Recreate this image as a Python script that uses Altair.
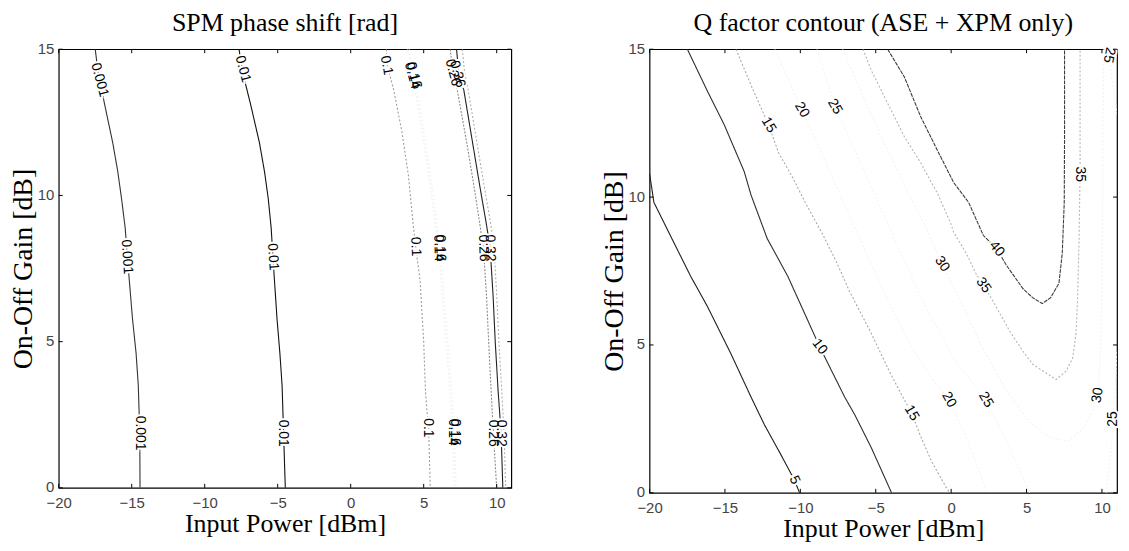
import altair as alt
import pandas as pd

# ---------------- shared axis values ----------------
X_TICKS = [-20, -15, -10, -5, 0, 5, 10]
Y_TICKS = [0, 5, 10, 15]
X_DOMAIN = [-20, 11]
Y_DOMAIN = [0, 15]

# ---------------- left panel: SPM phase shift [rad] ----------------
spm_y = [15.0, 14.2, 13.1, 11.8, 10.8, 9.9, 8.9, 7.3, 5.8, 4.6, 3.5, 1.9, 0.0]
spm_0001_x = [-17.5, -17.3, -16.85, -16.3, -15.95, -15.7, -15.45, -15.2, -14.95, -14.7, -14.55, -14.45, -14.43]
spm_001_x = [-7.65, -7.4, -6.85, -6.25, -5.9, -5.65, -5.45, -5.25, -5.05, -4.85, -4.7, -4.6, -4.48]

spm_01_x = [2.45, 2.5, 2.95, 3.5, 3.95, 4.3, 4.45, 4.75, 5.0, 5.12, 5.25, 5.34, 5.45]
spm_01_y = [15.0, 14.45, 13.6, 12.2, 10.7, 8.9, 8.25, 7.1, 5.0, 3.3, 2.5, 2.0, 0.0]

spm_014_x = [3.9, 4.2, 4.7, 5.2, 5.6, 6.0, 6.3, 6.6, 6.85, 7.0, 7.1]
spm_016_x = [4.02, 4.32, 4.82, 5.32, 5.72, 6.12, 6.42, 6.72, 6.97, 7.12, 7.22]
spm_014_y = [15.0, 14.1, 12.8, 11.2, 9.8, 8.2, 6.5, 4.6, 3.0, 1.9, 0.0]

spm_hi_y = [15.0, 14.2, 13.6, 11.8, 10.3, 9.0, 8.2, 6.6, 5.0, 3.3, 1.9, 0.0]
spm_026_x = [6.82, 7.0, 7.3, 7.95, 8.45, 8.85, 9.09, 9.3, 9.45, 9.62, 9.77, 10.0]
spm_032_x = [7.25, 7.4, 7.75, 8.35, 8.85, 9.3, 9.55, 9.75, 9.9, 10.1, 10.3, 10.42]
spm_036_x = [7.65, 7.8, 8.05, 8.65, 9.15, 9.6, 9.82, 10.0, 10.15, 10.35, 10.5, 10.62]

spm_levels = ["0.001", "0.01", "0.1", "0.14", "0.16", "0.26", "0.32", "0.36"]
spm_colors = ["#333333", "#111111", "#9c9c9c", "#efefef", "#f2f2f2", "#8a8a8a", "#222222", "#b0b0b0"]
spm_dashes = [[1, 0], [1, 0], [2, 2], [2, 2], [2, 2], [2, 1.5], [1, 0], [2, 2]]

spm_label_text = ["0.001", "0.01", "0.1", "0.14", "0.16", "0.26", "0.36",
                  "0.001", "0.01", "0.1", "0.14", "0.16", "0.26", "0.32",
                  "0.001", "0.01", "0.1", "0.14", "0.16", "0.26", "0.32"]
spm_label_x = [-17.2, -7.39, 2.45, 4.2, 4.32, 7.0, 7.3,
               -15.33, -5.33, 4.45, 6.02, 6.14, 9.09, 9.55,
               -14.45, -4.62, 5.3, 7.0, 7.12, 9.77, 10.3]
spm_label_y = [13.95, 14.32, 14.45, 14.1, 14.1, 14.2, 14.15,
               7.9, 7.9, 8.25, 8.2, 8.2, 8.2, 8.2,
               1.87, 1.87, 2.05, 1.9, 1.9, 1.87, 1.87]
spm_label_angle = [75, 75, 80, 75, 75, 75, 75,
                   86, 86, 88, 88, 88, 88, 88,
                   90, 90, 90, 90, 90, 90, 90]

# ---------------- right panel: Q factor contour ----------------
q5_x = [-20.0, -19.71, -18.6, -17.27, -16.16, -14.61, -13.27, -12.38, -11.3, -10.39, -10.05]
q5_y = [10.8, 9.82, 8.68, 7.32, 6.3, 4.71, 3.24, 2.3, 1.3, 0.43, 0.0]

q10_x = [-17.49, -16.16, -15.05, -13.72, -13.27, -12.2, -10.83, -9.72, -8.72, -7.94, -7.06, -6.39, -5.28, -3.95]
q10_y = [15.0, 13.58, 12.45, 10.86, 10.07, 8.6, 7.32, 6.07, 4.94, 4.14, 3.24, 2.64, 1.51, 0.0]

q15_x = [-14.27, -13.2, -12.1, -11.44, -10.56, -9.68, -8.59, -7.6, -6.73, -5.4, -4.1, -3.29, -2.62, -2.06, -1.29, -0.29, -0.1]
q15_y = [15.0, 13.7, 12.44, 11.49, 10.71, 9.82, 8.81, 7.8, 6.8, 5.5, 4.11, 3.32, 2.7, 1.96, 1.05, 0.15, 0.0]

q20_x = [-11.7, -9.9, -8.6, -7.3, -5.8, -4.2, -2.6, -1.2, -0.14, 1.0, 2.4]
q20_y = [15.0, 12.95, 11.5, 10.0, 8.3, 6.5, 4.9, 3.8, 3.15, 1.9, 0.0]

q25_x = [-8.9, -7.71, -6.4, -5.0, -3.5, -1.8, 0.2, 2.3, 3.8, 5.2]
q25_y = [15.0, 13.06, 11.6, 10.0, 8.3, 6.4, 4.5, 3.15, 1.6, 0.0]
q25b_x = [10.3, 10.6, 10.75, 10.9, 11.0]
q25b_y = [0.0, 1.4, 2.5, 3.8, 4.8]
q25c_x = [11.0, 10.7, 10.47, 10.35]
q25c_y = [12.8, 13.9, 14.8, 15.0]

q30_x = [-7.2, -6.0, -4.6, -3.0, -1.6, -0.6, 0.6, 2.0, 3.6, 5.2, 6.6, 7.8, 8.8, 9.4, 9.71, 9.9, 10.0, 10.05, 10.1]
q30_y = [15.0, 13.6, 12.0, 10.3, 8.9, 7.74, 6.5, 5.0, 3.5, 2.4, 1.85, 1.75, 2.2, 2.8, 3.3, 4.6, 7.0, 10.5, 15.0]

q35_x = [-5.85, -5.3, -4.21, -3.11, -2.02, -0.93, -0.05, 0.17, 1.0, 1.7, 2.14, 2.8, 3.9, 4.77, 5.43,
         6.3, 6.96, 7.62, 8.06, 8.27, 8.38, 8.48, 8.55, 8.55]
q35_y = [15.0, 14.29, 13.17, 12.05, 11.16, 10.15, 9.14, 8.81, 8.1, 7.36, 7.02, 6.46, 5.45, 4.78, 4.34,
         4.05, 3.83, 4.11, 4.56, 5.34, 6.46, 8.5, 10.77, 15.0]

q40_x = [-4.21, -3.11, -2.02, -0.93, 0.17, 1.16, 2.14, 3.02, 3.67, 4.77, 5.4, 6.04, 6.6, 7.15, 7.37, 7.5, 7.52, 7.52]
q40_y = [15.0, 14.07, 12.72, 11.6, 10.49, 9.82, 8.7, 8.25, 7.69, 6.9, 6.6, 6.4, 6.6, 7.09, 8.11, 9.82, 12.0, 15.0]

q_levels = ["5", "10", "15", "20", "25", "30", "35", "40"]
q_colors = ["#1e1e1e", "#2e2e2e", "#a8a8a8", "#f3f3f3", "#f4f4f4", "#f2f2f2", "#b4b4b4", "#3c3c3c"]
q_dashes = [[1, 0], [1, 0], [2, 2], [2, 2], [2, 2], [2, 2], [2, 2], [4, 1]]

q_label_text = ["5", "10", "15", "20", "25", "15", "20", "25", "30", "35", "40", "35", "30", "25", "25"]
q_label_x = [-10.39, -8.72, -12.1, -9.9, -7.71, -2.62, -0.14, 2.3, -0.6, 2.14, 3.02, 8.52, 9.71, 10.75, 10.47]
q_label_y = [0.43, 4.94, 12.44, 12.95, 13.06, 2.7, 3.15, 3.15, 7.74, 7.02, 8.25, 10.77, 3.3, 2.5, 14.8]
q_label_angle = [65, 52, 60, 60, 60, 60, 60, 60, 55, 55, 50, 90, 280, 270, 100]


def lines_frame(pieces):
    rows = []
    for level, piece, xs, ys in pieces:
        for i, (x, y) in enumerate(zip(xs, ys)):
            rows.append({"level": level, "piece": f"{level}-{piece}", "i": i, "x": x, "y": y})
    return pd.DataFrame(rows)


def labels_frame(texts, xs, ys, angles):
    return pd.DataFrame({"text": texts, "x": xs, "y": ys, "angle": angles})


def panel(lines_df, labels_df, levels, colors, dashes, W, H, title):
    xs = alt.Scale(domain=X_DOMAIN, nice=False, zero=False)
    ys = alt.Scale(domain=Y_DOMAIN, nice=False, zero=False)
    common = dict(grid=False, ticks=False, tickSize=0, domain=False,
                  labelFont="Liberation Sans", labelFontSize=15, labelColor="#444444",
                  titleFont="Liberation Serif", titleFontWeight="normal",
                  titleColor="black", labelFlush=False)
    lines = alt.Chart(lines_df).mark_line(strokeWidth=1.1, clip=True).encode(
        x=alt.X("x:Q", scale=xs, axis=alt.Axis(values=X_TICKS, title="Input Power [dBm]",
                                              labelPadding=8, titlePadding=0, titleFontSize=26, **common)),
        y=alt.Y("y:Q", scale=ys, axis=alt.Axis(values=Y_TICKS, title="On-Off Gain [dB]",
                                              labelPadding=5, titlePadding=0, titleFontSize=28,
                                              labelOffset=-1, **common)),
        color=alt.Color("level:N", scale=alt.Scale(domain=levels, range=colors), legend=None),
        strokeDash=alt.StrokeDash("level:N", scale=alt.Scale(domain=levels, range=dashes), legend=None),
        detail="piece:N",
        order="i:Q",
    )
    enc = dict(x=alt.X("x:Q", scale=xs), y=alt.Y("y:Q", scale=ys), text="text:N",
               angle=alt.Angle("angle:Q", scale=None))
    halo = alt.Chart(labels_df).mark_text(font="Liberation Sans", fontSize=14, color="white",
                                          stroke="white", strokeWidth=4).encode(**enc)
    text = alt.Chart(labels_df).mark_text(font="Liberation Sans", fontSize=14, color="black").encode(**enc)

    tx = pd.DataFrame({"x": X_TICKS})
    ty = pd.DataFrame({"y": Y_TICKS})
    t_bottom = alt.Chart(tx).mark_rule(color="black").encode(
        x=alt.X("x:Q", scale=xs), y=alt.value(H), y2=alt.value(H - 4))
    t_top = alt.Chart(tx).mark_rule(color="black").encode(
        x=alt.X("x:Q", scale=xs), y=alt.value(0), y2=alt.value(4))
    t_left = alt.Chart(ty).mark_rule(color="black").encode(
        y=alt.Y("y:Q", scale=ys), x=alt.value(0), x2=alt.value(4))
    t_right = alt.Chart(ty).mark_rule(color="black").encode(
        y=alt.Y("y:Q", scale=ys), x=alt.value(W), x2=alt.value(W - 4))

    return alt.layer(lines, halo, text, t_bottom, t_top, t_left, t_right).properties(
        width=W, height=H,
        title=alt.TitleParams(text=title, font="Liberation Serif", fontSize=26, fontWeight="normal",
                              color="black", anchor="middle", offset=5),
    )


spm_df = lines_frame([
    ("0.001", 0, spm_0001_x, spm_y),
    ("0.01", 0, spm_001_x, spm_y),
    ("0.1", 0, spm_01_x, spm_01_y),
    ("0.14", 0, spm_014_x, spm_014_y),
    ("0.16", 0, spm_016_x, spm_014_y),
    ("0.26", 0, spm_026_x, spm_hi_y),
    ("0.32", 0, spm_032_x, spm_hi_y),
    ("0.36", 0, spm_036_x, spm_hi_y),
])
spm_lab = labels_frame(spm_label_text, spm_label_x, spm_label_y, spm_label_angle)

q_df = lines_frame([
    ("5", 0, q5_x, q5_y),
    ("10", 0, q10_x, q10_y),
    ("15", 0, q15_x, q15_y),
    ("20", 0, q20_x, q20_y),
    ("25", 0, q25_x, q25_y),
    ("25", 1, q25b_x, q25b_y),
    ("25", 2, q25c_x, q25c_y),
    ("30", 0, q30_x, q30_y),
    ("35", 0, q35_x, q35_y),
    ("40", 0, q40_x, q40_y),
])
q_lab = labels_frame(q_label_text, q_label_x, q_label_y, q_label_angle)

left = panel(spm_df, spm_lab, spm_levels, spm_colors, spm_dashes, 455, 441, "SPM phase shift [rad]")
right = panel(q_df, q_lab, q_levels, q_colors, q_dashes, 470, 446, "Q factor contour (ASE + XPM only)")

chart = alt.hconcat(left, right, spacing=86).properties(
    padding={"left": 0, "top": 0, "right": 0, "bottom": 0}
).configure_view(stroke="black", strokeWidth=1.2).resolve_scale(color="independent", strokeDash="independent")

chart.save("out.html", embed_options={"renderer": "svg", "actions": False})
